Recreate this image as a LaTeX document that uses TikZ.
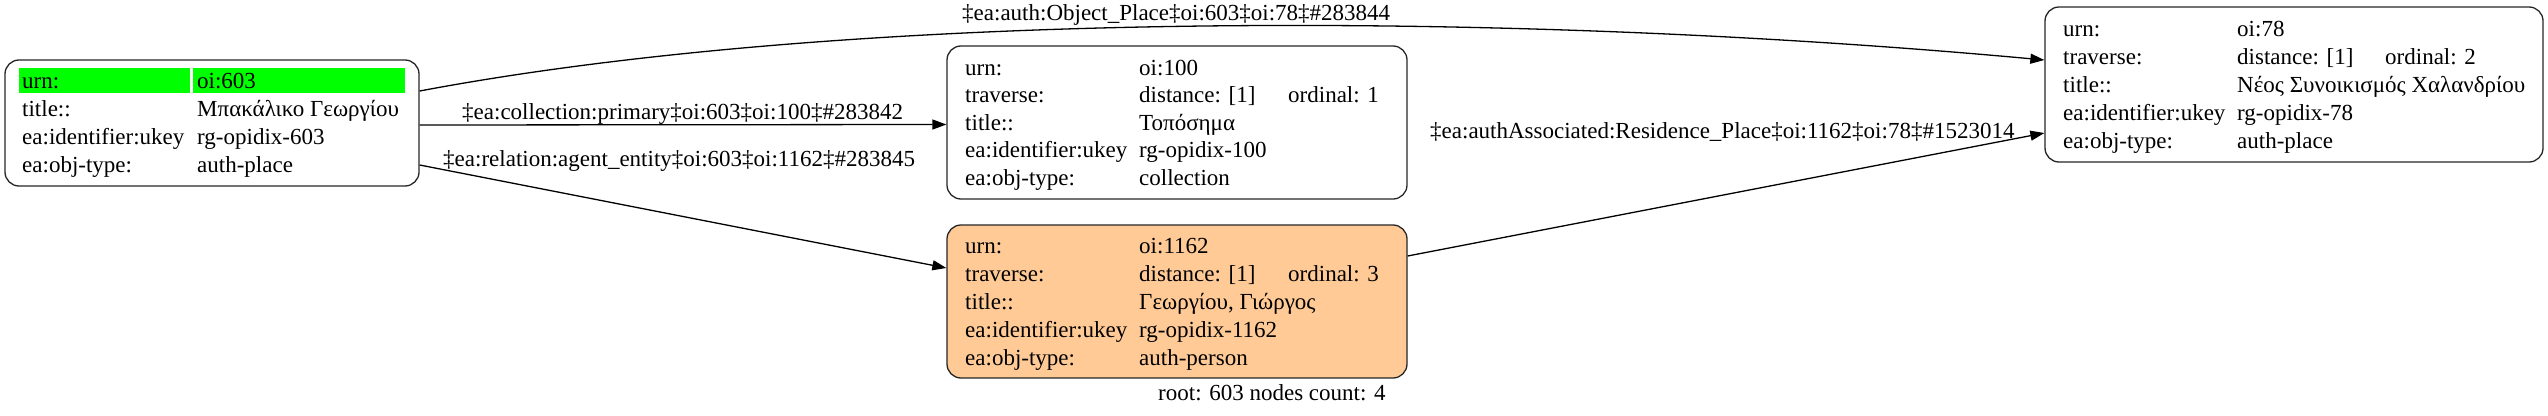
\documentclass[tikz,border=0pt]{standalone}
\usepackage{fontspec}
\setmainfont{Liberation Serif}
\usetikzlibrary{arrows.meta,calc}
\definecolor{peach}{HTML}{FFCA96}
\definecolor{hlgreen}{HTML}{00FF00}
\begin{document}
\begin{tikzpicture}[x=1pt,y=-1pt,
  recbox/.style={draw=black!85,line width=1.3pt,rounded corners=14pt,inner sep=0pt},
  txt/.style={anchor=base west,inner sep=0pt,font=\fontsize{23}{28}\selectfont},
  elbl/.style={anchor=base west,inner sep=0pt,font=\fontsize{23}{28}\selectfont},
  conn/.style={line width=1.3pt,-{Triangle[length=14pt,width=10pt]}},
  hl/.style={fill=hlgreen,draw=none,inner sep=0pt}]
\useasboundingbox (0,0) rectangle (2548,415);
% boxes
\node[recbox,minimum width=414pt,minimum height=126pt] (A) at (212,123) {};
\node[recbox,minimum width=460pt,minimum height=153pt] (B) at (1177,122.5) {};
\node[recbox,fill=peach,minimum width=460pt,minimum height=153pt] (C) at (1177,301.5) {};
\node[recbox,minimum width=498pt,minimum height=155pt] (D) at (2294,84.5) {};
% highlight of root urn row
\node[hl,minimum width=171pt,minimum height=25pt] (hA1) at (104.5,80.5) {};
\node[hl,minimum width=212pt,minimum height=25pt] (hA2) at (299,80.5) {};
% node A text
\node[txt] (a1l) at (22,88) {urn:};
\node[txt] (a1v) at (197,88) {oi:603};
\node[txt] (a2l) at (22,116) {title::};
\node[txt] (a2v) at (197,116) {Μπακάλικο Γεωργίου};
\node[txt] (a3l) at (22,144) {ea:identifier:ukey};
\node[txt] (a3v) at (197,144) {rg-opidix-603};
\node[txt] (a4l) at (22,172) {ea:obj-type:};
\node[txt] (a4v) at (197,172) {auth-place};
% node B text
\node[txt] (b1l) at (965,75) {urn:};
\node[txt] (b1v) at (1139,75) {oi:100};
\node[txt] (b2l) at (965,102.5) {traverse:};
\node[txt] (b2v) at (1139,102.5) {distance: [1]};
\node[txt] (b2o) at (1288,102.5) {ordinal: 1};
\node[txt] (b3l) at (965,130) {title::};
\node[txt] (b3v) at (1139,130) {Τοπόσημα};
\node[txt] (b4l) at (965,157.5) {ea:identifier:ukey};
\node[txt] (b4v) at (1139,157.5) {rg-opidix-100};
\node[txt] (b5l) at (965,185) {ea:obj-type:};
\node[txt] (b5v) at (1139,185) {collection};
% node C text
\node[txt] (c1l) at (965,253) {urn:};
\node[txt] (c1v) at (1139,253) {oi:1162};
\node[txt] (c2l) at (965,281) {traverse:};
\node[txt] (c2v) at (1139,281) {distance: [1]};
\node[txt] (c2o) at (1288,281) {ordinal: 3};
\node[txt] (c3l) at (965,309) {title::};
\node[txt] (c3v) at (1139,309) {Γεωργίου, Γιώργος};
\node[txt] (c4l) at (965,337) {ea:identifier:ukey};
\node[txt] (c4v) at (1139,337) {rg-opidix-1162};
\node[txt] (c5l) at (965,365) {ea:obj-type:};
\node[txt] (c5v) at (1139,365) {auth-person};
% node D text
\node[txt] (d1l) at (2063,36) {urn:};
\node[txt] (d1v) at (2237,36) {oi:78};
\node[txt] (d2l) at (2063,64) {traverse:};
\node[txt] (d2v) at (2237,64) {distance: [1]};
\node[txt] (d2o) at (2385,64) {ordinal: 2};
\node[txt] (d3l) at (2063,92) {title::};
\node[txt] (d3v) at (2237,92) {Νέος Συνοικισμός Χαλανδρίου};
\node[txt] (d4l) at (2063,120) {ea:identifier:ukey};
\node[txt] (d4v) at (2237,120) {rg-opidix-78};
\node[txt] (d5l) at (2063,148) {ea:obj-type:};
\node[txt] (d5v) at (2237,148) {auth-place};
% connectors
\draw[conn] ([yshift=32pt]A.east) .. controls (850,10) and (1500,10) .. ([yshift=24.5pt]D.west);
\draw[conn] ([yshift=-2pt]A.east) -- ([yshift=-2pt]B.west);
\draw[conn] ([yshift=-42pt]A.east) -- ([yshift=33.5pt]C.west);
\draw[conn] ([yshift=45.5pt]C.east) -- ([yshift=-48.5pt]D.west);
% edge labels
\node[elbl] (l1) at (962,20) {‡ea:auth:Object\_Place‡oi:603‡oi:78‡\#283844};
\node[elbl] (l2) at (462,119) {‡ea:collection:primary‡oi:603‡oi:100‡\#283842};
\node[elbl] (l3) at (443,166) {‡ea:relation:agent\_entity‡oi:603‡oi:1162‡\#283845};
\node[elbl] (l4) at (1430,138) {‡ea:authAssociated:Residence\_Place‡oi:1162‡oi:78‡\#1523014};
\node[elbl] (root) at (1158,400) {root: 603 nodes count: 4};
\end{tikzpicture}
\end{document}
